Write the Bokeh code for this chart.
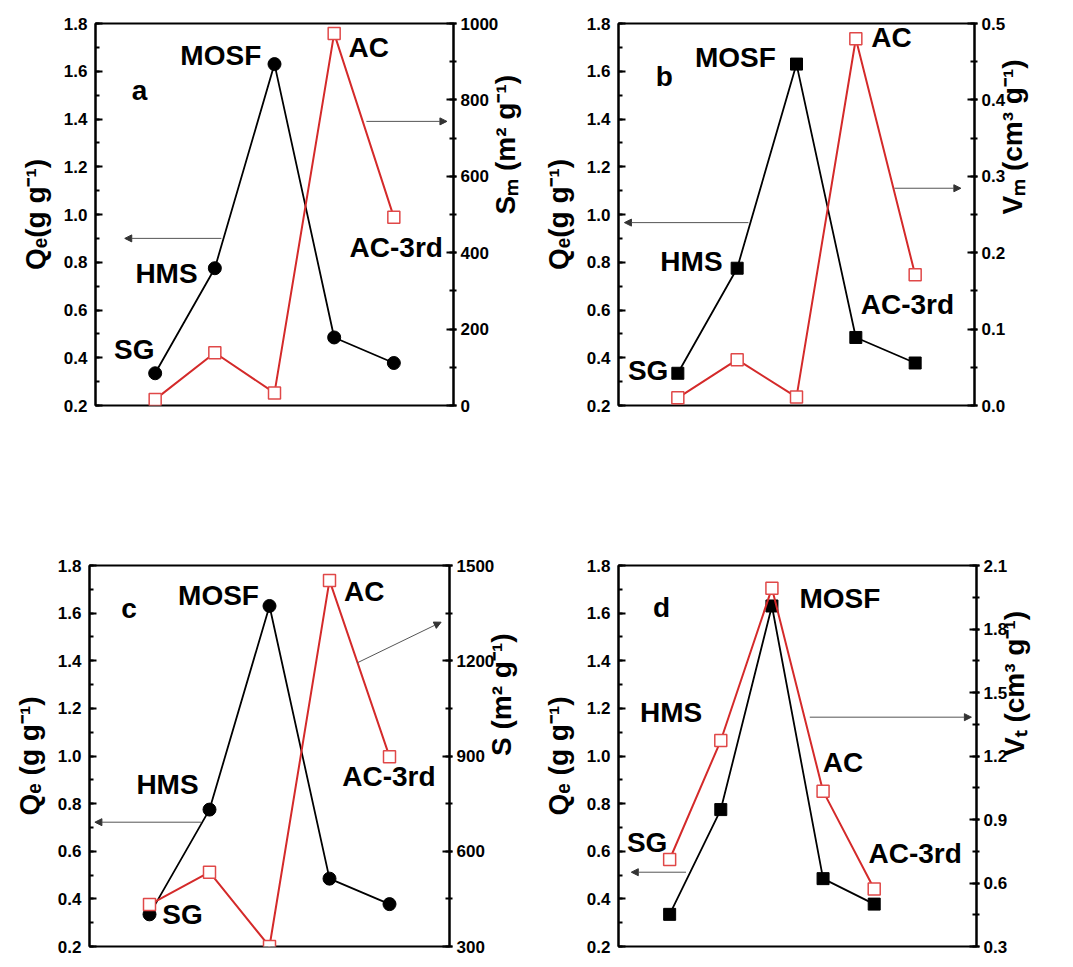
import math
from bokeh.plotting import figure
from bokeh.layouts import column, row
from bokeh.models import (Range1d, LinearAxis, SingleIntervalTicker, PrintfTickFormatter,
                          Label, Arrow, NormalHead)
from bokeh.embed import file_html
from bokeh.resources import INLINE

# ---------------- data ----------------
categories = ["SG", "HMS", "MOSF", "AC", "AC-3rd"]
x_pos = [1, 2, 3, 4, 5]
qe = [0.335, 0.775, 1.63, 0.485, 0.378]          # Qe (g g-1), left axis of every panel
sm = [16, 138, 33, 974, 493]                      # Sm (m2 g-1), panel a
vm = [0.010, 0.060, 0.011, 0.480, 0.171]          # Vm (cm3 g-1), panel b
s_tot = [432, 534, 300, 1453, 898]                # S (m2 g-1), panel c
vt = [0.711, 1.273, 1.993, 1.034, 0.572]          # Vt (cm3 g-1), panel d

FONT = "Liberation Sans"
RED = "#d42a2a"
RED_M = "#e04848"


def style_axis(ax):
    ax.axis_line_width = 2
    ax.axis_line_color = "black"
    ax.major_tick_in = 7
    ax.major_tick_out = 0
    ax.minor_tick_in = 4
    ax.minor_tick_out = 0
    ax.major_tick_line_width = 2
    ax.minor_tick_line_width = 2
    ax.major_label_text_font = FONT
    ax.major_label_text_font_style = "bold"
    ax.major_label_text_font_size = "17px"
    ax.major_label_text_color = "black"
    ax.major_label_standoff = 8
    ax.axis_label_text_font = FONT
    ax.axis_label_text_font_style = "bold"
    ax.axis_label_text_font_size = "28px"
    ax.axis_label_text_color = "black"
    ax.axis_label_standoff = 10


def make_panel(width, height, bl, br, bt, bb, xmax, rrange, rint, rfmt, rvals,
               bmarker, left_label, right_label, letter, letter_xy, label_xy, arrows):
    p = figure(width=width, height=height, x_range=Range1d(0, xmax), y_range=Range1d(0.2, 1.8),
               output_backend="svg", toolbar_location=None, x_axis_location=None,
               min_border_left=bl, min_border_right=br, min_border_top=bt, min_border_bottom=bb)
    p.xgrid.visible = False
    p.ygrid.visible = False
    p.outline_line_color = "black"
    p.outline_line_width = 2
    p.outline_line_alpha = 1
    p.background_fill_color = "white"
    p.border_fill_color = "white"

    lax = p.yaxis[0]
    lax.ticker = SingleIntervalTicker(interval=0.2, num_minor_ticks=2)
    lax.formatter = PrintfTickFormatter(format="%.1f")
    lax.axis_label = left_label
    style_axis(lax)

    p.extra_y_ranges = {"r": Range1d(*rrange)}
    rax = LinearAxis(y_range_name="r", ticker=SingleIntervalTicker(interval=rint, num_minor_ticks=2),
                     formatter=PrintfTickFormatter(format=rfmt), axis_label=right_label)
    style_axis(rax)
    rax.major_tick_out = 3
    rax.minor_tick_out = 3
    rax.major_label_standoff = 4
    rax.axis_label_standoff = 4
    rax.axis_label_orientation = math.pi / 2
    p.add_layout(rax, "right")

    # black series (Qe)
    p.line(x_pos, qe, line_color="black", line_width=1.8)
    p.scatter(x_pos, qe, marker=bmarker, size=13 if bmarker == "circle" else 12,
              fill_color="black", line_color="black")
    # red series (right axis)
    p.line(x_pos, rvals, line_color=RED, line_width=2, y_range_name="r")
    p.scatter(x_pos, rvals, marker="square", size=12, fill_color="white", line_color=RED_M,
              line_width=1.5, y_range_name="r")

    # arrows
    for (x0, y0, x1, y1) in arrows:
        p.add_layout(Arrow(end=NormalHead(size=7, fill_color="#333333", line_color="#333333"),
                           x_start=x0, y_start=y0, x_end=x1, y_end=y1,
                           line_color="#555555", line_width=1))

    # texts
    p.add_layout(Label(x=letter_xy[0], y=letter_xy[1], text=letter, text_align="center",
                       text_baseline="middle", text_font=FONT, text_font_style="bold",
                       text_font_size="28px", text_color="black"))
    for name, (lx, ly) in zip(categories, label_xy):
        p.add_layout(Label(x=lx, y=ly, text=name, text_align="center", text_baseline="middle",
                           text_font=FONT, text_font_style="bold", text_font_size="28px",
                           text_color="black"))
    return p


pa = make_panel(539, 488, 95, 84, 23, 83, 6, (0, 1000), 200, "%d", sm, "circle",
                "Q\u2091(g g\u207b\u00b9)", "S\u2098 (m\u00b2 g\u207b\u00b9)", "a", (0.74, 1.52),
                [(0.65, 0.435), (1.19, 0.754), (2.10, 1.666), (4.58, 1.70), (5.04, 0.86)],
                [(2.11, 0.9, 0.49, 0.9), (4.54, 1.39, 5.89, 1.39)])

pb = make_panel(526, 488, 76, 91, 23, 83, 6, (0, 0.5), 0.1, "%.1f", vm, "square",
                "Q\u2091(g g\u207b\u00b9)", "V\u2098 (cm\u00b3 g\u207b\u00b9)", "b", (0.77, 1.58),
                [(0.50, 0.347), (1.23, 0.805), (1.97, 1.657), (4.60, 1.74), (4.87, 0.624)],
                [(2.19, 0.966, 0.10, 0.966), (4.65, 1.11, 5.77, 1.11)])

pc = make_panel(537, 470, 89, 88, 77, 12, 6, (300, 1500), 300, "%d", s_tot, "circle",
                "Q\u2091 (g g\u207b\u00b9)", "S (m\u00b2 g\u207b\u00b9)", "c", (0.66, 1.62),
                [(1.55, 0.334), (1.30, 0.88), (2.15, 1.674), (4.58, 1.69), (4.99, 0.914)],
                [(1.86, 0.722, 0.09, 0.722), (4.46, 1.391, 5.86, 1.562)])

pd_ = make_panel(528, 470, 81, 89, 77, 12, 7, (0.3, 2.1), 0.3, "%.1f", vt, "square",
                 "Q\u2091 (g g\u207b\u00b9)", "V\u209c (cm\u00b3 g\u207b\u00b9)", "d", (0.84, 1.624),
                 [(0.56, 0.637), (1.03, 1.183), (4.33, 1.66), (4.39, 0.973), (5.80, 0.59)],
                 [(1.32, 0.512, 0.25, 0.512), (3.74, 1.163, 6.90, 1.163)])

layout = column(row(pa, pb), row(pc, pd_))

open("out.html", "w").write(file_html(layout, INLINE))
